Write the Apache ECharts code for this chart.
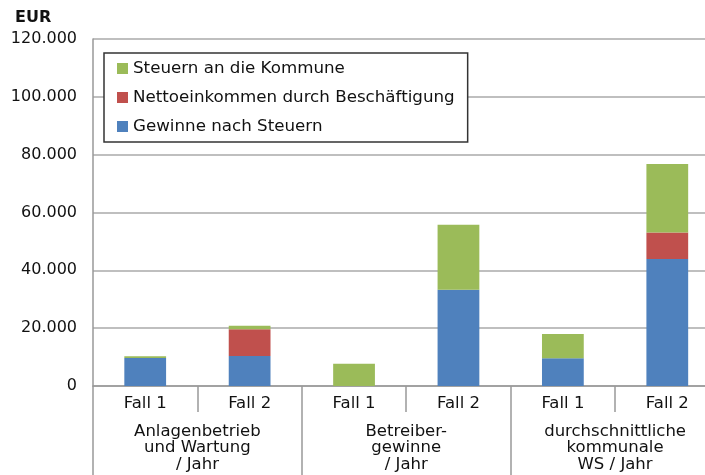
<!DOCTYPE html>
<html>
<head>
  <meta charset="UTF-8">
  <title>EUR je Fall</title>
  <script src="https://cdn.jsdelivr.net/npm/echarts@6/dist/echarts.min.js"></script>
  <style>
    html, body { margin: 0; padding: 0; background: #fff; }
    #chart { width: 705px; height: 475px; }
  </style>
</head>
<body>
<div id="chart"></div>
<script>
// Daten
const faelle = ['Fall 1', 'Fall 2', 'Fall 1', 'Fall 2', 'Fall 1', 'Fall 2']
const gruppen = ['Anlagenbetrieb\nund Wartung\n/ Jahr', 'Betreiber-\ngewinne\n/ Jahr', 'durchschnittliche\nkommunale\nWS / Jahr']
const gewinne = [9700, 10400, 0, 33300, 9600, 43900]
const netto = [0, 9250, 0, 0, 0, 9200]
const steuern = [600, 1150, 7700, 22500, 8400, 23700]
const yTicks = [0, 20000, 40000, 60000, 80000, 100000, 120000]

const font = 'DejaVu Sans'
const fmt = v => String(v).replace(/\B(?=(\d{3})+(?!\d))/g, '.')

const chart = echarts.init(document.getElementById('chart'))
chart.setOption({
  animation: false,
  textStyle: { fontFamily: font },
  title: {
    text: 'EUR',
    left: 10,
    top: 5,
    textStyle: { fontFamily: font, fontSize: 16, fontWeight: 'bold', color: '#111' }
  },
  legend: {
    orient: 'vertical',
    left: 104,
    top: 53,
    padding: [7, 13, 7, 13],
    itemGap: 12,
    itemWidth: 11,
    itemHeight: 11,
    icon: 'rect',
    backgroundColor: '#fff',
    borderColor: '#333',
    borderWidth: 1.5,
    borderRadius: 0,
    data: ['Steuern an die Kommune', 'Nettoeinkommen durch Beschäftigung', 'Gewinne nach Steuern'],
    textStyle: { fontFamily: font, fontSize: 16.7, lineHeight: 17, color: '#111' }
  },
  // plot area runs past the right edge, like the cropped original
  grid: { left: 93, width: 626.5, top: 39, bottom: 89, containLabel: false, outerBoundsMode: 'none' },
  xAxis: [
    {
      type: 'category',
      data: faelle,
      axisLine: { lineStyle: { color: '#999', width: 1.5 } },
      axisTick: { show: true, length: 26, lineStyle: { color: '#999', width: 1.5 } },
      axisLabel: { fontFamily: font, fontSize: 16.5, lineHeight: 17, color: '#111', margin: 9, interval: 0 }
    },
    {
      type: 'category',
      position: 'bottom',
      data: gruppen,
      axisLine: { show: false },
      axisTick: { show: true, length: 100, lineStyle: { color: '#999', width: 1.5 } },
      axisLabel: { fontFamily: font, fontSize: 16.5, lineHeight: 16.5, color: '#111', margin: 37, interval: 0 }
    }
  ],
  yAxis: {
    type: 'value',
    min: yTicks[0],
    max: yTicks[yTicks.length - 1],
    interval: yTicks[1] - yTicks[0],
    axisLine: { show: true, lineStyle: { color: '#999', width: 1.5 } },
    axisTick: { show: false },
    splitLine: { lineStyle: { color: '#aaa', width: 1.5 } },
    axisLabel: { fontFamily: font, fontSize: 16, color: '#111', margin: 16, formatter: fmt }
  },
  series: [
    {
      name: 'Gewinne nach Steuern',
      type: 'bar',
      stack: 'summe',
      barWidth: '40%',
      itemStyle: { color: '#4f81bd' },
      data: gewinne
    },
    {
      name: 'Nettoeinkommen durch Beschäftigung',
      type: 'bar',
      stack: 'summe',
      barWidth: '40%',
      itemStyle: { color: '#c0504d' },
      data: netto
    },
    {
      name: 'Steuern an die Kommune',
      type: 'bar',
      stack: 'summe',
      barWidth: '40%',
      itemStyle: { color: '#9bbb59' },
      data: steuern
    }
  ]
})
</script>
</body>
</html>
